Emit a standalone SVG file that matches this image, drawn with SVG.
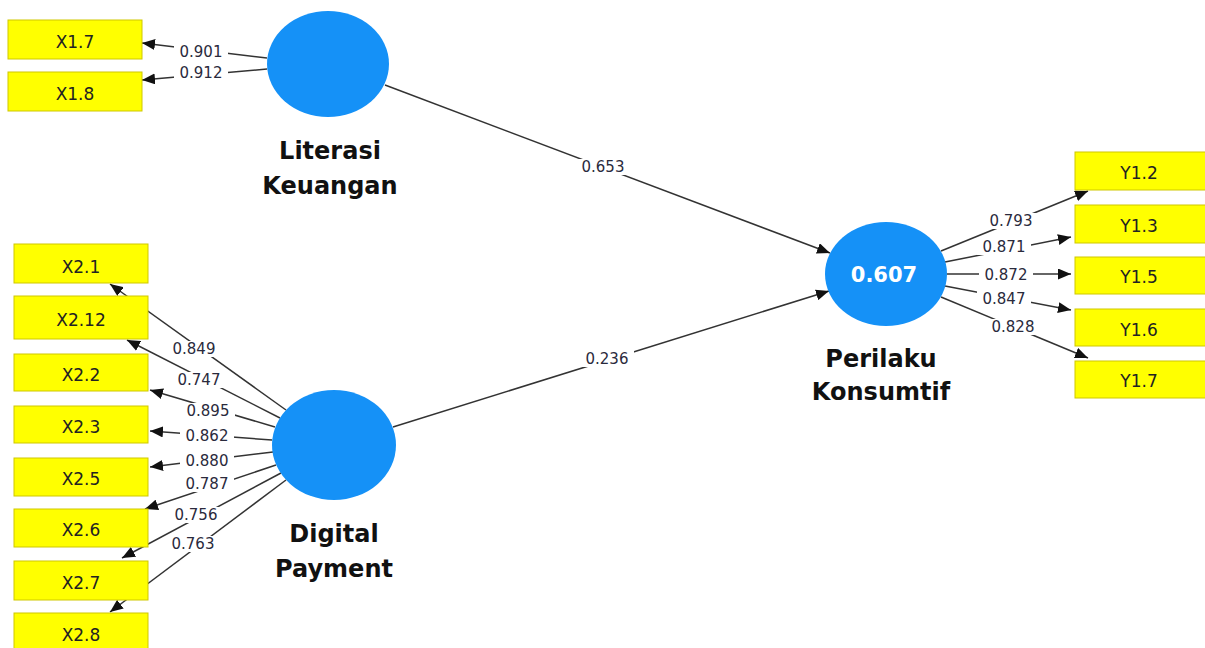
<svg xmlns="http://www.w3.org/2000/svg" width="1205" height="648" viewBox="0 0 1205 648">
  <style>
    .ind rect { fill: #ffff00; stroke: #cfc800; stroke-width: 1; }
    .ind text { font-family: "DejaVu Sans", sans-serif; font-size: 17px; fill: #222; text-anchor: middle; }
    .lat ellipse { fill: #1591f7; }
    .name { font-family: "DejaVu Sans", sans-serif; font-weight: bold; font-size: 24px; fill: #111; text-anchor: middle; }
    .r2 { font-family: "DejaVu Sans", sans-serif; font-weight: bold; font-size: 21px; fill: #fff; text-anchor: middle; }
    .edge { stroke: #333; stroke-width: 1.5; fill: none; marker-end: url(#head); }
    .lbl rect { fill: #fff; }
    .lbl text { font-family: "DejaVu Sans", sans-serif; font-size: 15px; fill: #2a2a3c; text-anchor: middle; }
  </style>
  <defs>
    <marker id="head" markerUnits="userSpaceOnUse" markerWidth="13" markerHeight="11" refX="13" refY="5.5" orient="auto">
      <path d="M0,0 L13,5.5 L0,11 z" fill="#111"/>
    </marker>
  </defs>
  <rect width="1205" height="648" fill="#fff"/>

  <!-- paths and loadings -->
  <g id="connectors">
    <!-- Literasi Keuangan indicators -->
    <line class="edge" x1="267" y1="58" x2="142" y2="43"/>
    <line class="edge" x1="267" y1="69" x2="142" y2="80"/>
    <!-- structural paths -->
    <line class="edge" x1="385" y1="85" x2="830" y2="253"/>
    <line class="edge" x1="393" y1="427" x2="829" y2="291"/>
    <!-- Digital Payment indicators -->
    <line class="edge" x1="286" y1="410" x2="110" y2="284"/>
    <line class="edge" x1="280" y1="418" x2="127" y2="340"/>
    <line class="edge" x1="275" y1="427" x2="150" y2="390"/>
    <line class="edge" x1="272" y1="440" x2="150" y2="431"/>
    <line class="edge" x1="273" y1="452" x2="150" y2="467"/>
    <line class="edge" x1="276" y1="465" x2="145" y2="509"/>
    <line class="edge" x1="281" y1="473" x2="122" y2="558"/>
    <line class="edge" x1="286" y1="480" x2="110" y2="612"/>
    <!-- Perilaku Konsumtif indicators -->
    <line class="edge" x1="941" y1="251" x2="1088" y2="191"/>
    <line class="edge" x1="945" y1="262" x2="1071" y2="237"/>
    <line class="edge" x1="947" y1="274" x2="1071" y2="274"/>
    <line class="edge" x1="945" y1="286" x2="1071" y2="310"/>
    <line class="edge" x1="941" y1="297" x2="1088" y2="358"/>

    <g class="lbl">
      <rect x="174" y="44" width="54" height="16"/><text x="201" y="57">0.901</text>
      <rect x="174" y="65" width="54" height="16"/><text x="201" y="78">0.912</text>
      <rect x="576" y="159" width="54" height="16"/><text x="603" y="172">0.653</text>
      <rect x="580" y="351" width="54" height="16"/><text x="607" y="364">0.236</text>
      <rect x="167" y="341" width="54" height="16"/><text x="194" y="354">0.849</text>
      <rect x="172" y="372" width="54" height="16"/><text x="199" y="385">0.747</text>
      <rect x="181" y="403" width="54" height="16"/><text x="208" y="416">0.895</text>
      <rect x="180" y="428" width="54" height="16"/><text x="207" y="441">0.862</text>
      <rect x="180" y="453" width="54" height="16"/><text x="207" y="466">0.880</text>
      <rect x="180" y="476" width="54" height="16"/><text x="207" y="489">0.787</text>
      <rect x="169" y="507" width="54" height="16"/><text x="196" y="520">0.756</text>
      <rect x="166" y="536" width="54" height="16"/><text x="193" y="549">0.763</text>
      <rect x="984" y="213" width="54" height="16"/><text x="1011" y="226">0.793</text>
      <rect x="977" y="239" width="54" height="16"/><text x="1004" y="252">0.871</text>
      <rect x="979" y="267" width="54" height="16"/><text x="1006" y="280">0.872</text>
      <rect x="977" y="291" width="54" height="16"/><text x="1004" y="304">0.847</text>
      <rect x="986" y="319" width="54" height="16"/><text x="1013" y="332">0.828</text>
    </g>
  </g>

  <!-- latent variables -->
  <g id="literasi-keuangan" class="lat">
    <ellipse cx="328" cy="64" rx="61" ry="53"/>
    <text class="name" x="330" y="159">Literasi</text>
    <text class="name" x="330" y="194">Keuangan</text>
  </g>
  <g id="digital-payment" class="lat">
    <ellipse cx="334" cy="445" rx="62" ry="55"/>
    <text class="name" x="334" y="542">Digital</text>
    <text class="name" x="334" y="577">Payment</text>
  </g>
  <g id="perilaku-konsumtif" class="lat">
    <ellipse cx="886" cy="274" rx="61" ry="52"/>
    <text class="r2" x="884" y="282">0.607</text>
    <text class="name" x="881" y="367">Perilaku</text>
    <text class="name" x="881" y="400">Konsumtif</text>
  </g>

  <!-- indicators -->
  <g id="X1.7" class="ind"><rect x="8" y="20" width="134" height="39"/><text x="75" y="48">X1.7</text></g>
  <g id="X1.8" class="ind"><rect x="8" y="72" width="134" height="39"/><text x="75" y="100">X1.8</text></g>

  <g id="X2.1" class="ind"><rect x="14" y="244" width="134" height="39"/><text x="81" y="273">X2.1</text></g>
  <g id="X2.12" class="ind"><rect x="14" y="296" width="134" height="43"/><text x="81" y="326">X2.12</text></g>
  <g id="X2.2" class="ind"><rect x="14" y="354" width="134" height="37"/><text x="81" y="381">X2.2</text></g>
  <g id="X2.3" class="ind"><rect x="14" y="406" width="134" height="37"/><text x="81" y="433">X2.3</text></g>
  <g id="X2.5" class="ind"><rect x="14" y="458" width="134" height="38"/><text x="81" y="485">X2.5</text></g>
  <g id="X2.6" class="ind"><rect x="14" y="509" width="134" height="38"/><text x="81" y="536">X2.6</text></g>
  <g id="X2.7" class="ind"><rect x="14" y="561" width="134" height="39"/><text x="81" y="589">X2.7</text></g>
  <g id="X2.8" class="ind"><rect x="14" y="613" width="134" height="39"/><text x="81" y="641">X2.8</text></g>

  <g id="Y1.2" class="ind"><rect x="1075" y="152" width="134" height="38"/><text x="1139" y="179">Y1.2</text></g>
  <g id="Y1.3" class="ind"><rect x="1075" y="205" width="134" height="38"/><text x="1139" y="232">Y1.3</text></g>
  <g id="Y1.5" class="ind"><rect x="1075" y="257" width="134" height="37"/><text x="1139" y="283">Y1.5</text></g>
  <g id="Y1.6" class="ind"><rect x="1075" y="309" width="134" height="37"/><text x="1139" y="336">Y1.6</text></g>
  <g id="Y1.7" class="ind"><rect x="1075" y="361" width="134" height="37"/><text x="1139" y="387">Y1.7</text></g>
</svg>
